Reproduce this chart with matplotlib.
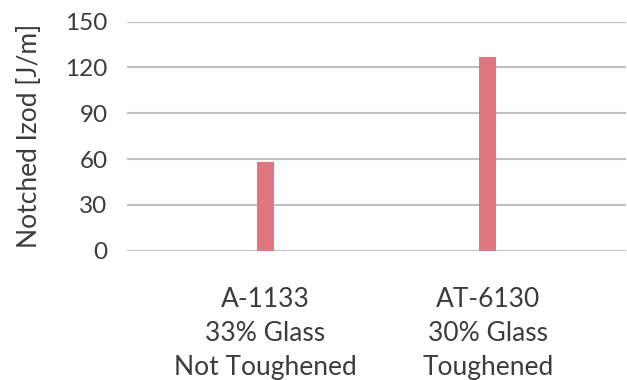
import matplotlib.pyplot as plt
import numpy as np

plt.rcParams['font.family'] = ['Lato', 'DejaVu Sans']

# notched izod impact per grade
grades = ['A-1133\n33% Glass\nNot Toughened', 'AT-6130\n30% Glass\nToughened']
izod = [58, 127]
yticks = [0, 30, 60, 90, 120, 150]

text_col = '#3C3C3C'
grid_col = '#BFBFBF'
bar_col = '#E0777F'

fig = plt.figure(figsize=(6.27, 3.8), dpi=100)
ax = fig.add_axes([0.2026, 0.3403, 0.7958, 0.6026])

x = np.arange(len(grades))
ax.bar(x, izod, width=0.076, color=bar_col, zorder=3)

ax.set_xlim(-0.62, 1.62)
ax.set_ylim(0, 150)
ax.set_yticks(yticks)
ax.set_xticks(x)
ax.set_xticklabels(grades, linespacing=1.45)

ax.grid(axis='y', color=grid_col, linewidth=1.5, zorder=0)
ax.set_axisbelow(True)
for s in ax.spines.values():
    s.set_visible(False)

ax.tick_params(axis='y', length=0, pad=14, labelsize=17.5, labelcolor=text_col)
ax.tick_params(axis='x', length=0, pad=26, labelsize=19, labelcolor=text_col)
ax.set_ylabel('Notched Izod [J/m]', fontsize=19, color=text_col, labelpad=17)

fig.savefig('out.png', dpi=100)
